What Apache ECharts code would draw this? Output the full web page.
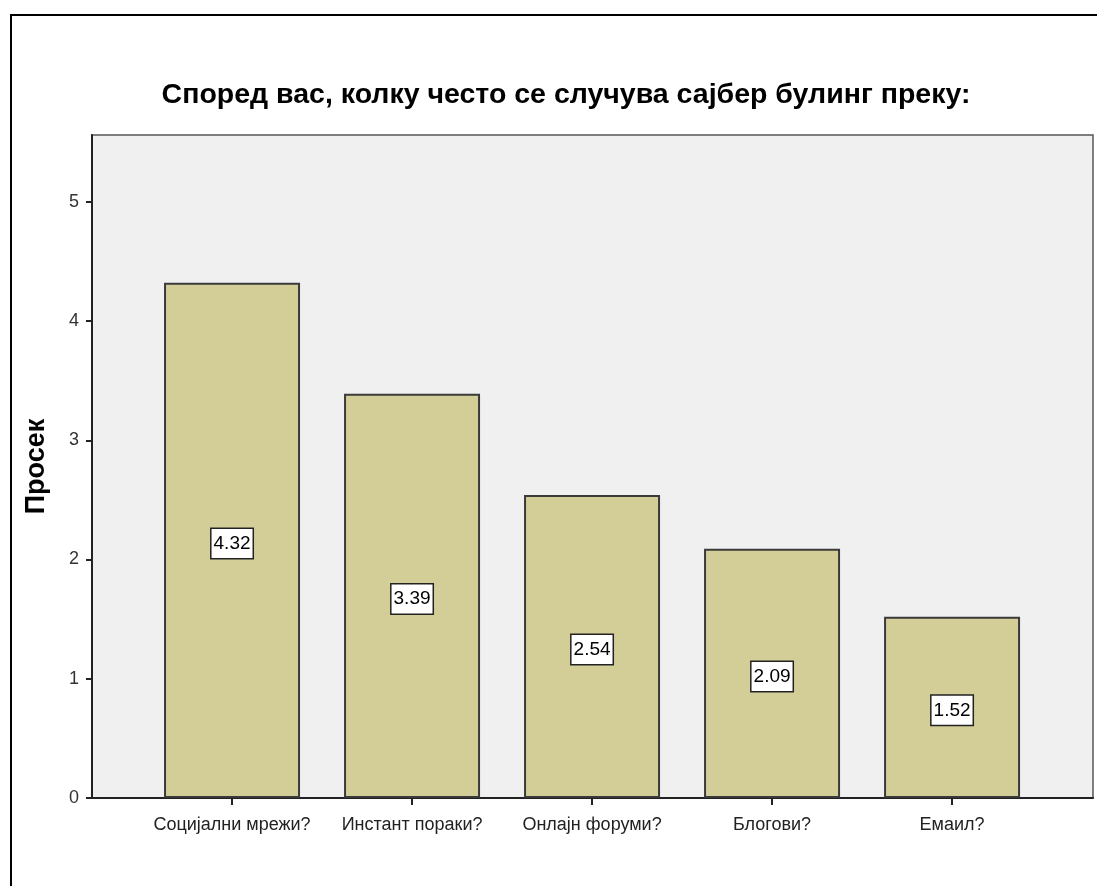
<!DOCTYPE html>
<html>
<head>
<meta charset="utf-8">
<script src="https://cdn.jsdelivr.net/npm/echarts@6/dist/echarts.min.js"></script>
<style>
html,body{margin:0;padding:0;background:#fff;}
#c{width:1097px;height:886px;}
</style>
</head>
<body>
<div id="c"></div>
<script>
const titleText = 'Според вас, колку често се случува сајбер булинг преку:';
const yAxisName = 'Просек';
const categories = ['Социјални мрежи?', 'Инстант пораки?', 'Онлајн форуми?', 'Блогови?', 'Емаил?'];
const means = [4.32, 3.39, 2.54, 2.09, 1.52];
const yTicks = [0, 1, 2, 3, 4, 5];

const chart = echarts.init(document.getElementById('c'), null, {renderer: 'canvas'});
const FONT = '"Liberation Sans", Arial, sans-serif';
const catIdx = categories.map((_, i) => i);
const barData = means.map((v, i) => [i, v]);

chart.setOption({
  animation: false,
  backgroundColor: '#ffffff',
  textStyle: {fontFamily: FONT},
  title: {
    text: titleText,
    left: 561, top: 76, textAlign: 'center',
    textStyle: {fontFamily: FONT, fontSize: 28.5, fontWeight: 'bold', color: '#000'}
  },
  graphic: [{
    type: 'rect', silent: true, z: -1,
    shape: {x: 11, y: 15, width: 1200, height: 1000},
    style: {fill: 'none', stroke: '#000', lineWidth: 2}
  }],
  grid: {
    left: 92, top: 135, right: 4, bottom: 88,
    show: true, backgroundColor: '#F0F0F0', borderColor: '#555', borderWidth: 1.5
  },
  xAxis: {
    type: 'value', min: -0.778, max: 4.783,
    splitLine: {show: false},
    axisLine: {show: true, onZero: false, lineStyle: {color: '#222', width: 2}},
    axisTick: {show: true, customValues: catIdx, length: 7, lineStyle: {color: '#222', width: 2}},
    axisLabel: {
      customValues: catIdx, margin: 18,
      formatter: v => categories[Math.round(v)] || '',
      fontFamily: FONT, fontSize: 18, color: '#222'
    }
  },
  yAxis: {
    type: 'value', min: 0, max: 5.56,
    name: yAxisName, nameLocation: 'middle', nameGap: 42,
    nameTextStyle: {fontFamily: FONT, fontSize: 27, fontWeight: 'bold', color: '#000'},
    splitLine: {show: false},
    axisLine: {show: true, onZero: false, lineStyle: {color: '#222', width: 2}},
    axisTick: {show: true, customValues: yTicks, length: 6, lineStyle: {color: '#222', width: 2}},
    axisLabel: {customValues: yTicks, margin: 13, fontFamily: FONT, fontSize: 18, color: '#333'}
  },
  series: [{
    type: 'bar',
    data: barData,
    barWidth: 136,
    itemStyle: {color: '#D3CE98', borderColor: '#3A3A3A', borderWidth: 2},
    label: {
      show: true, position: 'inside', offset: [0, 3],
      formatter: p => p.value[1].toFixed(2),
      fontFamily: FONT, fontSize: 19, color: '#000',
      backgroundColor: '#fff', borderColor: '#222', borderWidth: 1.5,
      padding: [6, 2, 4, 2]
    }
  }]
});
</script>
</body>
</html>
